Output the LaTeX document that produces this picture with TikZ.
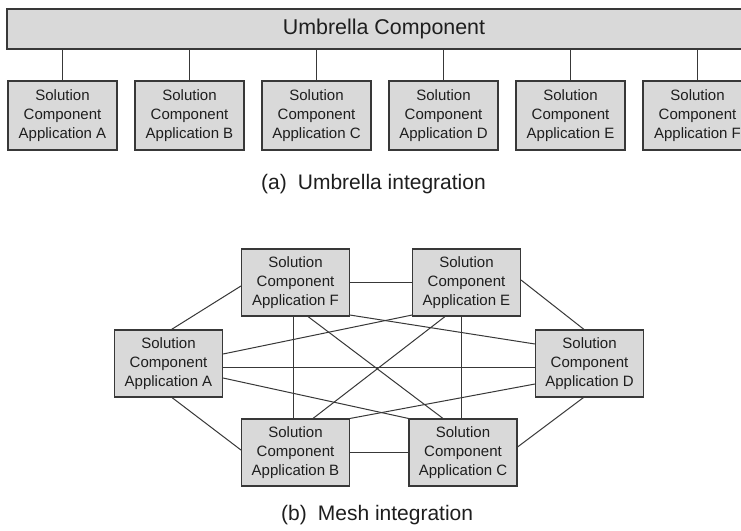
\documentclass[tikz,border=0pt]{standalone}
\usepackage{fontspec}
\setmainfont{Liberation Sans}
\definecolor{boxfill}{HTML}{D9D9D9}
\definecolor{boxline}{HTML}{383838}
\definecolor{txt}{HTML}{1E1E1E}
\begin{document}
\begin{tikzpicture}[x=1pt,y=-1pt,
  comp/.style={draw=boxline,fill=boxfill,line width=1.1pt,inner sep=0pt,
    minimum width=109pt,minimum height=69pt,align=center,text=txt,
    font=\fontsize{15}{19}\selectfont},
  mcomp/.style={comp,minimum width=108pt,minimum height=67pt},
  link/.style={draw=boxline,line width=1pt},
  captext/.style={anchor=base west,text=txt,inner sep=0pt,font=\fontsize{21}{25}\selectfont}]
\clip (0,0) rectangle (741,530);
\fill[white] (0,0) rectangle (741,530);
% (a) umbrella
\node[comp,minimum width=754pt,minimum height=40pt,font=\fontsize{21.4}{25}\selectfont] (U) at (384,29) {Umbrella Component};
\node[comp] (uA) at (62.5,115.5) {Solution\\Component\\Application A};
\node[comp] (uB) at (189.5,115.5) {Solution\\Component\\Application B};
\node[comp] (uC) at (316.5,115.5) {Solution\\Component\\Application C};
\node[comp] (uD) at (443.5,115.5) {Solution\\Component\\Application D};
\node[comp] (uE) at (570.5,115.5) {Solution\\Component\\Application E};
\node[comp] (uF) at (697.5,115.5) {Solution\\Component\\Application F};
\foreach \n in {uA,uB,uC,uD,uE,uF}
  \draw[link] (\n.north) -- (\n.north |- U.south);
\node[captext] (capa) at (261,189) {(a)\hspace{11pt}Umbrella integration};
% (b) mesh
\node[mcomp] (F) at (295.5,282.5) {Solution\\Component\\Application F};
\node[mcomp] (E) at (466.5,282.5) {Solution\\Component\\Application E};
\node[mcomp] (A) at (168.5,363.5) {Solution\\Component\\Application A};
\node[mcomp] (D) at (589.5,363.5) {Solution\\Component\\Application D};
\node[mcomp] (B) at (295.5,452.5) {Solution\\Component\\Application B};
\node[mcomp] (C) at (463,452.5) {Solution\\Component\\Application C};
\draw[link] (F.east) -- (E.west);
\draw[link] (B.east) -- (C.west);
\draw[link] ([yshift=-3.5pt]A.east) -- ([yshift=-3.5pt]D.west);
\draw[link] ([xshift=-2.5pt]F.south) -- ([xshift=-2.5pt]B.north);
\draw[link] ([xshift=-5.5pt]E.south) -- ([xshift=-2pt]C.north);
\draw[link] ([xshift=3pt]A.north) -- ([yshift=-3.5pt]F.west);
\draw[link] ([yshift=2.5pt]E.east) -- ([xshift=-5.5pt]D.north);
\draw[link] ([xshift=3.5pt]A.south) -- ([yshift=2.5pt]B.west);
\draw[link] ([yshift=5.5pt]C.east) -- ([xshift=-6pt]D.south);
\draw[link] ([yshift=9.5pt]A.east) -- ([yshift=1.5pt]E.south west);
\draw[link] ([yshift=1.5pt]F.south east) -- ([yshift=19.5pt]D.west);
\draw[link] ([yshift=-14.5pt]A.east) -- (C.north west);
\draw[link] (B.north east) -- ([yshift=-20.5pt]D.west);
\draw[link] ([xshift=12.5pt]F.south) -- ([xshift=-20pt]C.north);
\draw[link] ([xshift=-21.5pt]E.south) -- ([xshift=17.5pt]B.north);
\node[captext] (capb) at (281,520) {(b)\hspace{11pt}Mesh integration};
\end{tikzpicture}
\end{document}
